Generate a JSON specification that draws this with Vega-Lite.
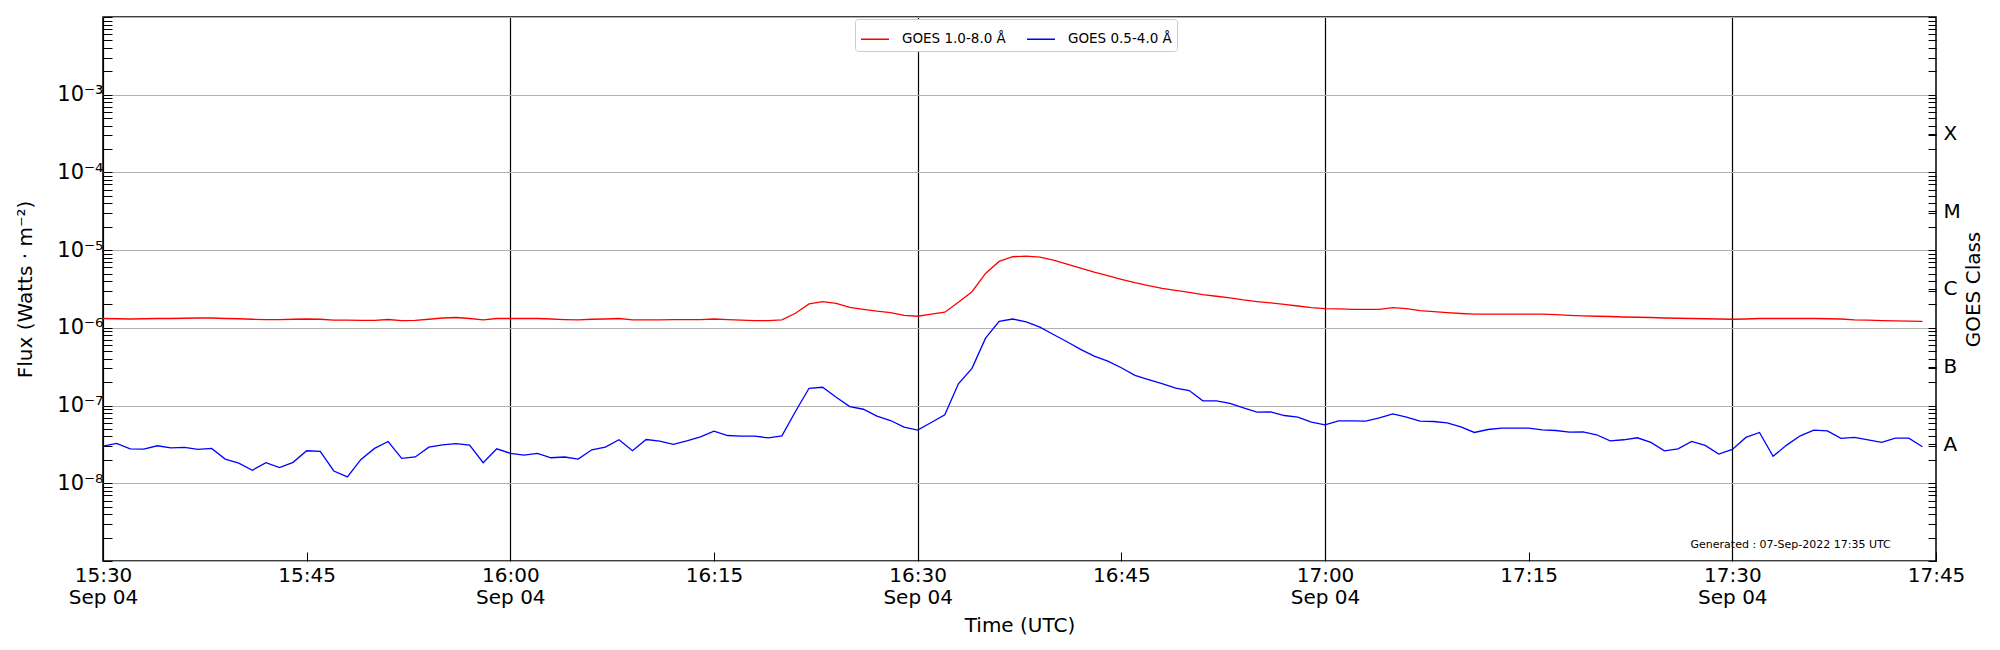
{
  "$schema": "https://vega.github.io/schema/vega-lite/v6.json",
  "width": 1833,
  "height": 544,
  "autosize": "none",
  "padding": {"left": 103, "top": 17, "right": 64, "bottom": 89},
  "config": {
    "font": "DejaVu Sans",
    "view": {"stroke": "black", "strokeWidth": 1.5},
    "axis": {
      "domain": false,
      "tickColor": "black",
      "tickWidth": 1,
      "labelColor": "black",
      "titleColor": "black",
      "labelFontSize": 20,
      "titleFontSize": 20,
      "titleFontWeight": "normal",
      "labelOverlap": false
    }
  },
  "data": {
    "values": [
      {"t": "2022-09-04T15:30:00Z", "xrsb": 1.32e-6, "xrsa": 3.01e-8},
      {"t": "2022-09-04T15:31:00Z", "xrsb": 1.31e-6, "xrsa": 3.26e-8},
      {"t": "2022-09-04T15:32:00Z", "xrsb": 1.30e-6, "xrsa": 2.78e-8},
      {"t": "2022-09-04T15:33:00Z", "xrsb": 1.31e-6, "xrsa": 2.75e-8},
      {"t": "2022-09-04T15:34:00Z", "xrsb": 1.32e-6, "xrsa": 3.04e-8},
      {"t": "2022-09-04T15:35:00Z", "xrsb": 1.32e-6, "xrsa": 2.86e-8},
      {"t": "2022-09-04T15:36:00Z", "xrsb": 1.33e-6, "xrsa": 2.89e-8},
      {"t": "2022-09-04T15:37:00Z", "xrsb": 1.34e-6, "xrsa": 2.73e-8},
      {"t": "2022-09-04T15:38:00Z", "xrsb": 1.34e-6, "xrsa": 2.81e-8},
      {"t": "2022-09-04T15:39:00Z", "xrsb": 1.32e-6, "xrsa": 2.05e-8},
      {"t": "2022-09-04T15:40:00Z", "xrsb": 1.31e-6, "xrsa": 1.82e-8},
      {"t": "2022-09-04T15:41:00Z", "xrsb": 1.29e-6, "xrsa": 1.47e-8},
      {"t": "2022-09-04T15:42:00Z", "xrsb": 1.28e-6, "xrsa": 1.84e-8},
      {"t": "2022-09-04T15:43:00Z", "xrsb": 1.28e-6, "xrsa": 1.59e-8},
      {"t": "2022-09-04T15:44:00Z", "xrsb": 1.29e-6, "xrsa": 1.86e-8},
      {"t": "2022-09-04T15:45:00Z", "xrsb": 1.30e-6, "xrsa": 2.62e-8},
      {"t": "2022-09-04T15:46:00Z", "xrsb": 1.29e-6, "xrsa": 2.57e-8},
      {"t": "2022-09-04T15:47:00Z", "xrsb": 1.26e-6, "xrsa": 1.44e-8},
      {"t": "2022-09-04T15:48:00Z", "xrsb": 1.26e-6, "xrsa": 1.21e-8},
      {"t": "2022-09-04T15:49:00Z", "xrsb": 1.25e-6, "xrsa": 2.03e-8},
      {"t": "2022-09-04T15:50:00Z", "xrsb": 1.25e-6, "xrsa": 2.81e-8},
      {"t": "2022-09-04T15:51:00Z", "xrsb": 1.28e-6, "xrsa": 3.45e-8},
      {"t": "2022-09-04T15:52:00Z", "xrsb": 1.24e-6, "xrsa": 2.09e-8},
      {"t": "2022-09-04T15:53:00Z", "xrsb": 1.25e-6, "xrsa": 2.18e-8},
      {"t": "2022-09-04T15:54:00Z", "xrsb": 1.29e-6, "xrsa": 2.92e-8},
      {"t": "2022-09-04T15:55:00Z", "xrsb": 1.34e-6, "xrsa": 3.13e-8},
      {"t": "2022-09-04T15:56:00Z", "xrsb": 1.36e-6, "xrsa": 3.23e-8},
      {"t": "2022-09-04T15:57:00Z", "xrsb": 1.32e-6, "xrsa": 3.10e-8},
      {"t": "2022-09-04T15:58:00Z", "xrsb": 1.27e-6, "xrsa": 1.84e-8},
      {"t": "2022-09-04T15:59:00Z", "xrsb": 1.32e-6, "xrsa": 2.78e-8},
      {"t": "2022-09-04T16:00:00Z", "xrsb": 1.32e-6, "xrsa": 2.43e-8},
      {"t": "2022-09-04T16:01:00Z", "xrsb": 1.32e-6, "xrsa": 2.31e-8},
      {"t": "2022-09-04T16:02:00Z", "xrsb": 1.32e-6, "xrsa": 2.43e-8},
      {"t": "2022-09-04T16:03:00Z", "xrsb": 1.30e-6, "xrsa": 2.13e-8},
      {"t": "2022-09-04T16:04:00Z", "xrsb": 1.28e-6, "xrsa": 2.18e-8},
      {"t": "2022-09-04T16:05:00Z", "xrsb": 1.27e-6, "xrsa": 2.05e-8},
      {"t": "2022-09-04T16:06:00Z", "xrsb": 1.29e-6, "xrsa": 2.70e-8},
      {"t": "2022-09-04T16:07:00Z", "xrsb": 1.30e-6, "xrsa": 2.92e-8},
      {"t": "2022-09-04T16:08:00Z", "xrsb": 1.32e-6, "xrsa": 3.63e-8},
      {"t": "2022-09-04T16:09:00Z", "xrsb": 1.27e-6, "xrsa": 2.62e-8},
      {"t": "2022-09-04T16:10:00Z", "xrsb": 1.27e-6, "xrsa": 3.66e-8},
      {"t": "2022-09-04T16:11:00Z", "xrsb": 1.27e-6, "xrsa": 3.49e-8},
      {"t": "2022-09-04T16:12:00Z", "xrsb": 1.28e-6, "xrsa": 3.16e-8},
      {"t": "2022-09-04T16:13:00Z", "xrsb": 1.28e-6, "xrsa": 3.52e-8},
      {"t": "2022-09-04T16:14:00Z", "xrsb": 1.28e-6, "xrsa": 3.96e-8},
      {"t": "2022-09-04T16:15:00Z", "xrsb": 1.30e-6, "xrsa": 4.69e-8},
      {"t": "2022-09-04T16:16:00Z", "xrsb": 1.28e-6, "xrsa": 4.12e-8},
      {"t": "2022-09-04T16:17:00Z", "xrsb": 1.26e-6, "xrsa": 4.04e-8},
      {"t": "2022-09-04T16:18:00Z", "xrsb": 1.24e-6, "xrsa": 4.04e-8},
      {"t": "2022-09-04T16:19:00Z", "xrsb": 1.24e-6, "xrsa": 3.85e-8},
      {"t": "2022-09-04T16:20:00Z", "xrsb": 1.27e-6, "xrsa": 4.08e-8},
      {"t": "2022-09-04T16:21:00Z", "xrsb": 1.54e-6, "xrsa": 8.38e-8},
      {"t": "2022-09-04T16:22:00Z", "xrsb": 2.03e-6, "xrsa": 1.67e-7},
      {"t": "2022-09-04T16:23:00Z", "xrsb": 2.18e-6, "xrsa": 1.72e-7},
      {"t": "2022-09-04T16:24:00Z", "xrsb": 2.07e-6, "xrsa": 1.28e-7},
      {"t": "2022-09-04T16:25:00Z", "xrsb": 1.84e-6, "xrsa": 9.70e-8},
      {"t": "2022-09-04T16:26:00Z", "xrsb": 1.73e-6, "xrsa": 8.97e-8},
      {"t": "2022-09-04T16:27:00Z", "xrsb": 1.64e-6, "xrsa": 7.30e-8},
      {"t": "2022-09-04T16:28:00Z", "xrsb": 1.57e-6, "xrsa": 6.42e-8},
      {"t": "2022-09-04T16:29:00Z", "xrsb": 1.45e-6, "xrsa": 5.27e-8},
      {"t": "2022-09-04T16:30:00Z", "xrsb": 1.41e-6, "xrsa": 4.83e-8},
      {"t": "2022-09-04T16:31:00Z", "xrsb": 1.50e-6, "xrsa": 6.05e-8},
      {"t": "2022-09-04T16:32:00Z", "xrsb": 1.59e-6, "xrsa": 7.59e-8},
      {"t": "2022-09-04T16:33:00Z", "xrsb": 2.13e-6, "xrsa": 1.91e-7},
      {"t": "2022-09-04T16:34:00Z", "xrsb": 2.92e-6, "xrsa": 3.01e-7},
      {"t": "2022-09-04T16:35:00Z", "xrsb": 5.02e-6, "xrsa": 7.38e-7},
      {"t": "2022-09-04T16:36:00Z", "xrsb": 7.16e-6, "xrsa": 1.21e-6},
      {"t": "2022-09-04T16:37:00Z", "xrsb": 8.22e-6, "xrsa": 1.30e-6},
      {"t": "2022-09-04T16:38:00Z", "xrsb": 8.38e-6, "xrsa": 1.19e-6},
      {"t": "2022-09-04T16:39:00Z", "xrsb": 8.13e-6, "xrsa": 1.02e-6},
      {"t": "2022-09-04T16:40:00Z", "xrsb": 7.45e-6, "xrsa": 8.22e-7},
      {"t": "2022-09-04T16:41:00Z", "xrsb": 6.62e-6, "xrsa": 6.62e-7},
      {"t": "2022-09-04T16:42:00Z", "xrsb": 5.88e-6, "xrsa": 5.28e-7},
      {"t": "2022-09-04T16:43:00Z", "xrsb": 5.22e-6, "xrsa": 4.33e-7},
      {"t": "2022-09-04T16:44:00Z", "xrsb": 4.69e-6, "xrsa": 3.74e-7},
      {"t": "2022-09-04T16:45:00Z", "xrsb": 4.21e-6, "xrsa": 3.07e-7},
      {"t": "2022-09-04T16:46:00Z", "xrsb": 3.81e-6, "xrsa": 2.45e-7},
      {"t": "2022-09-04T16:47:00Z", "xrsb": 3.49e-6, "xrsa": 2.16e-7},
      {"t": "2022-09-04T16:48:00Z", "xrsb": 3.23e-6, "xrsa": 1.91e-7},
      {"t": "2022-09-04T16:49:00Z", "xrsb": 3.04e-6, "xrsa": 1.68e-7},
      {"t": "2022-09-04T16:50:00Z", "xrsb": 2.86e-6, "xrsa": 1.56e-7},
      {"t": "2022-09-04T16:51:00Z", "xrsb": 2.67e-6, "xrsa": 1.15e-7},
      {"t": "2022-09-04T16:52:00Z", "xrsb": 2.55e-6, "xrsa": 1.15e-7},
      {"t": "2022-09-04T16:53:00Z", "xrsb": 2.43e-6, "xrsa": 1.07e-7},
      {"t": "2022-09-04T16:54:00Z", "xrsb": 2.29e-6, "xrsa": 9.33e-8},
      {"t": "2022-09-04T16:55:00Z", "xrsb": 2.18e-6, "xrsa": 8.22e-8},
      {"t": "2022-09-04T16:56:00Z", "xrsb": 2.09e-6, "xrsa": 8.30e-8},
      {"t": "2022-09-04T16:57:00Z", "xrsb": 2.01e-6, "xrsa": 7.45e-8},
      {"t": "2022-09-04T16:58:00Z", "xrsb": 1.91e-6, "xrsa": 7.08e-8},
      {"t": "2022-09-04T16:59:00Z", "xrsb": 1.82e-6, "xrsa": 6.11e-8},
      {"t": "2022-09-04T17:00:00Z", "xrsb": 1.77e-6, "xrsa": 5.65e-8},
      {"t": "2022-09-04T17:01:00Z", "xrsb": 1.75e-6, "xrsa": 6.35e-8},
      {"t": "2022-09-04T17:02:00Z", "xrsb": 1.73e-6, "xrsa": 6.35e-8},
      {"t": "2022-09-04T17:03:00Z", "xrsb": 1.73e-6, "xrsa": 6.30e-8},
      {"t": "2022-09-04T17:04:00Z", "xrsb": 1.73e-6, "xrsa": 6.95e-8},
      {"t": "2022-09-04T17:05:00Z", "xrsb": 1.82e-6, "xrsa": 7.82e-8},
      {"t": "2022-09-04T17:06:00Z", "xrsb": 1.77e-6, "xrsa": 7.08e-8},
      {"t": "2022-09-04T17:07:00Z", "xrsb": 1.67e-6, "xrsa": 6.30e-8},
      {"t": "2022-09-04T17:08:00Z", "xrsb": 1.62e-6, "xrsa": 6.24e-8},
      {"t": "2022-09-04T17:09:00Z", "xrsb": 1.57e-6, "xrsa": 6.00e-8},
      {"t": "2022-09-04T17:10:00Z", "xrsb": 1.53e-6, "xrsa": 5.33e-8},
      {"t": "2022-09-04T17:11:00Z", "xrsb": 1.50e-6, "xrsa": 4.51e-8},
      {"t": "2022-09-04T17:12:00Z", "xrsb": 1.50e-6, "xrsa": 4.92e-8},
      {"t": "2022-09-04T17:13:00Z", "xrsb": 1.50e-6, "xrsa": 5.12e-8},
      {"t": "2022-09-04T17:14:00Z", "xrsb": 1.50e-6, "xrsa": 5.12e-8},
      {"t": "2022-09-04T17:15:00Z", "xrsb": 1.50e-6, "xrsa": 5.12e-8},
      {"t": "2022-09-04T17:16:00Z", "xrsb": 1.50e-6, "xrsa": 4.88e-8},
      {"t": "2022-09-04T17:17:00Z", "xrsb": 1.48e-6, "xrsa": 4.78e-8},
      {"t": "2022-09-04T17:18:00Z", "xrsb": 1.45e-6, "xrsa": 4.55e-8},
      {"t": "2022-09-04T17:19:00Z", "xrsb": 1.43e-6, "xrsa": 4.59e-8},
      {"t": "2022-09-04T17:20:00Z", "xrsb": 1.41e-6, "xrsa": 4.21e-8},
      {"t": "2022-09-04T17:21:00Z", "xrsb": 1.40e-6, "xrsa": 3.52e-8},
      {"t": "2022-09-04T17:22:00Z", "xrsb": 1.38e-6, "xrsa": 3.63e-8},
      {"t": "2022-09-04T17:23:00Z", "xrsb": 1.37e-6, "xrsa": 3.85e-8},
      {"t": "2022-09-04T17:24:00Z", "xrsb": 1.36e-6, "xrsa": 3.36e-8},
      {"t": "2022-09-04T17:25:00Z", "xrsb": 1.34e-6, "xrsa": 2.62e-8},
      {"t": "2022-09-04T17:26:00Z", "xrsb": 1.33e-6, "xrsa": 2.78e-8},
      {"t": "2022-09-04T17:27:00Z", "xrsb": 1.32e-6, "xrsa": 3.45e-8},
      {"t": "2022-09-04T17:28:00Z", "xrsb": 1.31e-6, "xrsa": 3.07e-8},
      {"t": "2022-09-04T17:29:00Z", "xrsb": 1.30e-6, "xrsa": 2.38e-8},
      {"t": "2022-09-04T17:30:00Z", "xrsb": 1.29e-6, "xrsa": 2.73e-8},
      {"t": "2022-09-04T17:31:00Z", "xrsb": 1.30e-6, "xrsa": 3.89e-8},
      {"t": "2022-09-04T17:32:00Z", "xrsb": 1.32e-6, "xrsa": 4.51e-8},
      {"t": "2022-09-04T17:33:00Z", "xrsb": 1.32e-6, "xrsa": 2.22e-8},
      {"t": "2022-09-04T17:34:00Z", "xrsb": 1.32e-6, "xrsa": 3.10e-8},
      {"t": "2022-09-04T17:35:00Z", "xrsb": 1.32e-6, "xrsa": 4.08e-8},
      {"t": "2022-09-04T17:36:00Z", "xrsb": 1.32e-6, "xrsa": 4.83e-8},
      {"t": "2022-09-04T17:37:00Z", "xrsb": 1.31e-6, "xrsa": 4.73e-8},
      {"t": "2022-09-04T17:38:00Z", "xrsb": 1.30e-6, "xrsa": 3.78e-8},
      {"t": "2022-09-04T17:39:00Z", "xrsb": 1.27e-6, "xrsa": 3.89e-8},
      {"t": "2022-09-04T17:40:00Z", "xrsb": 1.26e-6, "xrsa": 3.63e-8},
      {"t": "2022-09-04T17:41:00Z", "xrsb": 1.24e-6, "xrsa": 3.36e-8},
      {"t": "2022-09-04T17:42:00Z", "xrsb": 1.23e-6, "xrsa": 3.81e-8},
      {"t": "2022-09-04T17:43:00Z", "xrsb": 1.22e-6, "xrsa": 3.81e-8},
      {"t": "2022-09-04T17:44:00Z", "xrsb": 1.21e-6, "xrsa": 2.95e-8}
    ]
  },
  "encoding": {
    "x": {
      "field": "t",
      "type": "temporal",
      "scale": {
        "type": "utc",
        "nice": false,
        "domain": [
          {"year": 2022, "month": 9, "date": 4, "hours": 15, "minutes": 30, "utc": true},
          {"year": 2022, "month": 9, "date": 4, "hours": 17, "minutes": 45, "utc": true}
        ]
      },
      "axis": {
        "title": "Time (UTC)",
        "titleX": 916.5,
        "titleY": 73,
        "titleBaseline": "middle",
        "offset": -9,
        "tickSize": 9,
        "labelPadding": 4,
        "values": [
          {"year": 2022, "month": 9, "date": 4, "hours": 15, "minutes": 30, "utc": true},
          {"year": 2022, "month": 9, "date": 4, "hours": 15, "minutes": 45, "utc": true},
          {"year": 2022, "month": 9, "date": 4, "hours": 16, "minutes": 0, "utc": true},
          {"year": 2022, "month": 9, "date": 4, "hours": 16, "minutes": 15, "utc": true},
          {"year": 2022, "month": 9, "date": 4, "hours": 16, "minutes": 30, "utc": true},
          {"year": 2022, "month": 9, "date": 4, "hours": 16, "minutes": 45, "utc": true},
          {"year": 2022, "month": 9, "date": 4, "hours": 17, "minutes": 0, "utc": true},
          {"year": 2022, "month": 9, "date": 4, "hours": 17, "minutes": 15, "utc": true},
          {"year": 2022, "month": 9, "date": 4, "hours": 17, "minutes": 30, "utc": true},
          {"year": 2022, "month": 9, "date": 4, "hours": 17, "minutes": 45, "utc": true}
        ],
        "labelExpr": "utcminutes(datum.value) % 30 == 0 ? [utcFormat(datum.value, '%H:%M'), 'Sep 04'] : utcFormat(datum.value, '%H:%M')",
        "labelFlush": false,
        "labelLineHeight": 22,
        "grid": true,
        "gridColor": "black",
        "gridWidth": 1.2,
        "gridOpacity": {"condition": {"test": "utcminutes(datum.value) % 30 == 0", "value": 1}, "value": 0}
      }
    }
  },
  "layer": [
    {
      "transform": [{"fold": ["xrsb", "xrsa"], "as": ["ch", "flux"]}, {"filter": "datum.ch == 'xrsb'"}],
      "mark": {"type": "line", "strokeWidth": 1.3},
      "encoding": {
        "y": {
          "field": "flux",
          "type": "quantitative",
          "scale": {"type": "log", "domain": [1e-9, 1e-2], "nice": false},
          "axis": {
            "orient": "left",
            "title": "Flux (Watts · m⁻²)",
            "titleX": -86.5,
            "titleY": 272,
            "titleAngle": 270,
            "titleAlign": "center",
            "titleBaseline": "middle",
            "offset": -9,
            "tickSize": 9,
            "labelPadding": 0,
            "labelFontSize": 21,
            "values": [1e-9, 2e-9, 3e-9, 4e-9, 5e-9, 6e-9, 7e-9, 8e-9, 9e-9,
                       1e-8, 2e-8, 3e-8, 4e-8, 5e-8, 6e-8, 7e-8, 8e-8, 9e-8,
                       1e-7, 2e-7, 3e-7, 4e-7, 5e-7, 6e-7, 7e-7, 8e-7, 9e-7,
                       1e-6, 2e-6, 3e-6, 4e-6, 5e-6, 6e-6, 7e-6, 8e-6, 9e-6,
                       1e-5, 2e-5, 3e-5, 4e-5, 5e-5, 6e-5, 7e-5, 8e-5, 9e-5,
                       1e-4, 2e-4, 3e-4, 4e-4, 5e-4, 6e-4, 7e-4, 8e-4, 9e-4,
                       1e-3, 2e-3, 3e-3, 4e-3, 5e-3, 6e-3, 7e-3, 8e-3, 9e-3, 1e-2],
            "labelExpr": "abs(log(datum.value) / LN10 - round(log(datum.value) / LN10)) < 0.001 && datum.value > 5e-9 && datum.value < 5e-3 ? '10⁻' + ['⁰','¹','²','³','⁴','⁵','⁶','⁷','⁸','⁹'][-round(log(datum.value) / LN10)] : ''",
            "grid": true,
            "gridColor": "#b0b0b0",
            "gridWidth": 1.2,
            "gridOpacity": {"condition": {"test": "abs(log(datum.value) / LN10 - round(log(datum.value) / LN10)) < 0.001", "value": 1}, "value": 0}
          }
        },
        "color": {
          "field": "ch",
          "type": "nominal",
          "scale": {"domain": ["xrsb", "xrsa"], "range": ["#ff0000", "#0000ff"]},
          "legend": {
            "orient": "none",
            "legendX": 752,
            "legendY": 2,
            "direction": "horizontal",
            "title": null,
            "symbolType": "stroke",
            "symbolSize": 784,
            "symbolStrokeWidth": 1.5,
            "labelFontSize": 13.5,
            "labelOffset": 12,
            "columnPadding": 18,
            "padding": 5,
            "strokeColor": "#cccccc",
            "fillColor": "white",
            "cornerRadius": 3,
            "labelExpr": "datum.label == 'xrsb' ? 'GOES 1.0-8.0 Å' : 'GOES 0.5-4.0 Å'"
          }
        }
      }
    },
    {
      "transform": [{"fold": ["xrsb", "xrsa"], "as": ["ch", "flux"]}, {"filter": "datum.ch == 'xrsa'"}],
      "mark": {"type": "line", "strokeWidth": 1.3},
      "encoding": {
        "y": {
          "field": "flux",
          "type": "quantitative",
          "scale": {"type": "log", "domain": [1e-9, 1e-2], "nice": false},
          "axis": {
            "orient": "right",
            "title": "GOES Class",
            "titleX": 45,
            "titleY": 272,
            "titleAngle": 270,
            "titleAlign": "center",
            "titleBaseline": "middle",
            "offset": -8,
            "tickSize": 8,
            "labelPadding": 7,
            "labelFontSize": 20,
            "values": [1e-9, 2e-9, 3e-9, 4e-9, 5e-9, 6e-9, 7e-9, 8e-9, 9e-9,
                       1e-8, 2e-8, 3e-8, 3.1623e-8, 4e-8, 5e-8, 6e-8, 7e-8, 8e-8, 9e-8,
                       1e-7, 2e-7, 3e-7, 3.1623e-7, 4e-7, 5e-7, 6e-7, 7e-7, 8e-7, 9e-7,
                       1e-6, 2e-6, 3e-6, 3.1623e-6, 4e-6, 5e-6, 6e-6, 7e-6, 8e-6, 9e-6,
                       1e-5, 2e-5, 3e-5, 3.1623e-5, 4e-5, 5e-5, 6e-5, 7e-5, 8e-5, 9e-5,
                       1e-4, 2e-4, 3e-4, 3.1623e-4, 4e-4, 5e-4, 6e-4, 7e-4, 8e-4, 9e-4,
                       1e-3, 2e-3, 3e-3, 4e-3, 5e-3, 6e-3, 7e-3, 8e-3, 9e-3, 1e-2],
            "labelExpr": "abs(log(datum.value) / LN10 - floor(log(datum.value) / LN10) - 0.5) < 0.01 ? ['A','B','C','M','X'][floor(log(datum.value) / LN10) + 8] : ''",
            "grid": false
          }
        },
        "color": {"field": "ch", "type": "nominal", "scale": {"domain": ["xrsb", "xrsa"], "range": ["#ff0000", "#0000ff"]}}
      }
    },
    {
      "data": {"values": [{"t": "2022-09-04T17:41:40Z", "y": 1.63e-9, "label": "Generated : 07-Sep-2022 17:35 UTC"}]},
      "mark": {"type": "text", "align": "right", "baseline": "middle", "fontSize": 11, "color": "black"},
      "encoding": {
        "y": {"field": "y", "type": "quantitative", "scale": {"type": "log", "domain": [1e-9, 1e-2], "nice": false}, "axis": null},
        "text": {"field": "label"}
      }
    }
  ],
  "resolve": {"axis": {"y": "independent"}}
}
